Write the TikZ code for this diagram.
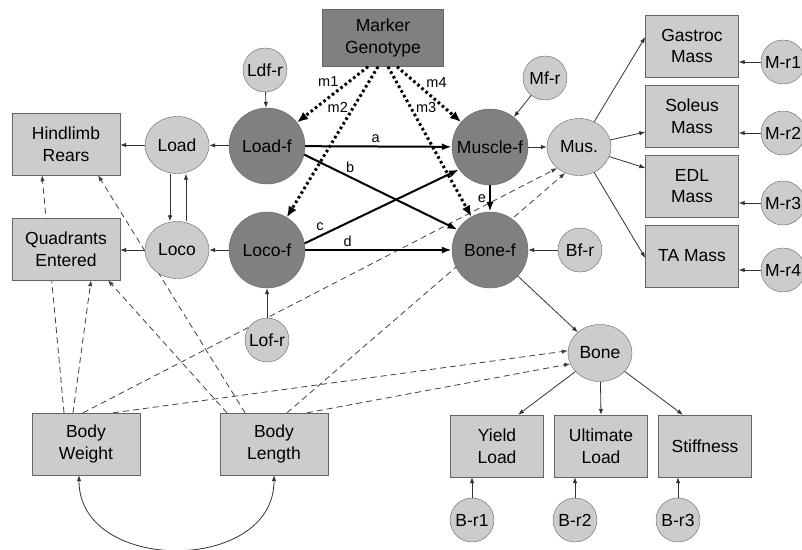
\documentclass[tikz,border=0pt]{standalone}
\usepackage{fontspec}
\setmainfont{Liberation Sans}
\usetikzlibrary{arrows.meta,shapes.geometric,backgrounds}
\definecolor{darkfill}{RGB}{128,128,128}
\definecolor{lightfill}{RGB}{204,204,204}
\definecolor{rim}{RGB}{100,100,100}
\tikzset{
	manifest/.style={draw=rim, fill=lightfill, minimum width=108pt, minimum height=62pt, inner sep=0pt, align=center},
	massbox/.style={manifest, minimum width=93pt},
	genobox/.style={manifest, fill=darkfill, minimum width=121pt, minimum height=57pt},
	factor/.style={draw=rim, fill=darkfill, shape=circle, minimum size=76pt, inner sep=0pt},
	latent/.style={draw=rim, fill=lightfill, shape=ellipse, minimum width=64pt, minimum height=57pt, inner sep=0pt},
	resid/.style={draw=rim, fill=lightfill, shape=circle, minimum size=44pt, inner sep=0pt},
	link/.style={->, line width=0.8pt, draw=black!80},
	effect/.style={-{Latex[length=10pt,width=7pt]}, line width=2pt},
	geno/.style={-{Latex[length=11pt,width=9pt]}, line width=3pt, dash pattern=on 2.6pt off 2.8pt},
	covary/.style={->, line width=0.8pt, draw=black!75, dash pattern=on 6pt off 4pt},
	elabel/.style={font=\fontsize{14.5}{16}\selectfont, inner sep=1pt}
}

\begin{document}
\begin{tikzpicture}[x=1pt, y=-1pt, >={Latex[length=6pt,width=4.5pt]}, font=\fontsize{17.5}{21.5}\selectfont]
	\useasboundingbox (0,0) rectangle (802,549);

	% Genotype and factors
	\node[genobox] (marker) at (383,38) {Marker\\Genotype};
	\node[factor] (loadf) at (267,146) {Load-f};		\node[factor] (musclef) at (490,147) {Muscle-f};
	\node[factor] (locof) at (267,250) {Loco-f};		\node[factor] (bonef) at (490,250) {Bone-f};

	% Residuals of factors
	\node[resid] (ldfr) at (265,70) {Ldf-r};			\node[resid] (mfr) at (545,78) {Mf-r};
	\node[resid] (lofr) at (267,340) {Lof-r};			\node[resid] (bfr) at (580,250) {Bf-r};

	% Latent traits
	\node[latent] (load) at (177,145) {Load};
	\node[latent] (loco) at (177,250) {Loco};
	\node[latent] (mus) at (579,147) {Mus.};
	\node[latent] (bone) at (600,353) {Bone};

	% Measured traits
	\node[manifest] (hr) at (66,144) {Hindlimb\\Rears};
	\node[manifest] (qe) at (66,249) {Quadrants\\Entered};
	\node[manifest] (bw) at (86,444) {Body\\Weight};
	\node[manifest] (bl) at (274,444) {Body\\Length};

	\node[massbox] (gastroc) at (692,46) {Gastroc\\Mass};	\node[resid] (mr1) at (783,62) {M-r1};
	\node[massbox] (soleus) at (692,116) {Soleus\\Mass};	\node[resid] (mr2) at (783,133) {M-r2};
	\node[massbox] (edl) at (692,186) {EDL\\Mass};			\node[resid] (mr3) at (783,203) {M-r3};
	\node[massbox] (ta) at (692,256) {TA Mass};			\node[resid] (mr4) at (783,270) {M-r4};

	\node[massbox] (yield) at (497,446) {Yield\\Load};		\node[resid] (br1) at (472,520) {B-r1};
	\node[massbox] (ultimate) at (601,446) {Ultimate\\Load};	\node[resid] (br2) at (575,520) {B-r2};
	\node[massbox] (stiff) at (705,446) {Stiffness};		\node[resid] (br3) at (678,520) {B-r3};

	% Marker effects
	\draw[geno] ([xshift=-15pt]marker.south) -- (loadf) node[elabel, pos=0.27, left=8pt] {m1};
	\draw[geno] ([xshift=-5pt]marker.south) -- (locof) node[elabel, pos=0.27, left=3pt] {m2};
	\draw[geno] ([xshift=5pt]marker.south) -- (bonef) node[elabel, pos=0.27, right=3pt] {m3};
	\draw[geno] ([xshift=14pt]marker.south) -- (musclef) node[elabel, pos=0.28, right=9pt] {m4};

	% Factor paths
	\draw[effect] (loadf) -- (musclef) node[elabel, pos=0.48, above=2pt] {a};
	\draw[effect] (loadf.-13) -- (bonef.148) node[elabel, pos=0.3, above=3pt] {b};
	\draw[effect] (locof.10) -- (musclef.-144) node[elabel, pos=0.1, above=3pt] {c};
	\draw[effect] (locof) -- (bonef) node[elabel, pos=0.29, above=1pt] {d};
	\draw[effect] (musclef) -- (bonef) node[elabel, midway, left=2pt] {e};

	% Residuals
	\draw[link] (ldfr) -- (loadf);
	\draw[link] (lofr) -- (locof);
	\draw[link] (mfr) -- (musclef);
	\draw[link] (bfr) -- (bonef);

	% Factors to traits
	\draw[link] (loadf) -- (load);
	\draw[link] (locof) -- (loco);
	\draw[link] (musclef) -- (mus);
	\draw[link] (bonef) -- (bone);
	\draw[link] ([xshift=-7pt]load.south) -- ([xshift=-7pt]loco.north);
	\draw[link] ([xshift=9pt]loco.north) -- ([xshift=9pt]load.south);

	% Traits to measures
	\draw[link] (load.west) -- (load.west -| hr.east);
	\draw[link] (loco.west) -- (loco.west -| qe.east);
	\draw[link] (mus) -- ([yshift=9pt]gastroc.west);
	\draw[link] (mus) -- ([yshift=-16pt]soleus.west);
	\draw[link] (mus) -- ([yshift=18pt]edl.west);
	\draw[link] (mus) -- ([yshift=-2pt]ta.west);
	\draw[link] (bone) -- ([xshift=21pt]yield.north);
	\draw[link] (bone) -- (ultimate.north);
	\draw[link] (bone) -- ([xshift=-22pt]stiff.north);

	% Measurement residuals
	\draw[link] (mr1) -- (mr1 -| gastroc.east);
	\draw[link] (mr2) -- (mr2 -| soleus.east);
	\draw[link] (mr3) -- (mr3 -| edl.east);
	\draw[link] (mr4) -- (mr4 -| ta.east);
	\draw[link] (br1) -- (br1 |- yield.south);
	\draw[link] (br2) -- (br2 |- ultimate.south);
	\draw[link] (br3) -- (br3 |- stiff.south);

	% Body size covariates
	\draw[link, <->] ([xshift=-7pt]bw.south) to[out=-90, in=-90, looseness=1.3] (bl.south);
	\begin{scope}[on background layer]
		\draw[covary] ([xshift=-22pt]bw.north) -- ([xshift=-24pt]hr.south);
		\draw[covary] ([xshift=-13pt]bw.north) -- ([xshift=25pt]qe.south);
		\draw[covary] ([xshift=-3pt]bw.north) -- (mus.-136);
		\draw[covary] ([xshift=27pt]bw.north) -- (bone.176);
		\draw[covary] ([xshift=-47pt]bl.north) -- ([xshift=42pt]qe.south);
		\draw[covary] ([xshift=-29pt]bl.north) -- ([xshift=32pt]hr.south);
		\draw[covary] ([xshift=13pt]bl.north) -- (mus.-118);
		\draw[covary] ([xshift=33pt]bl.north) -- (bone.-160);
	\end{scope}
\end{tikzpicture}
\end{document}
